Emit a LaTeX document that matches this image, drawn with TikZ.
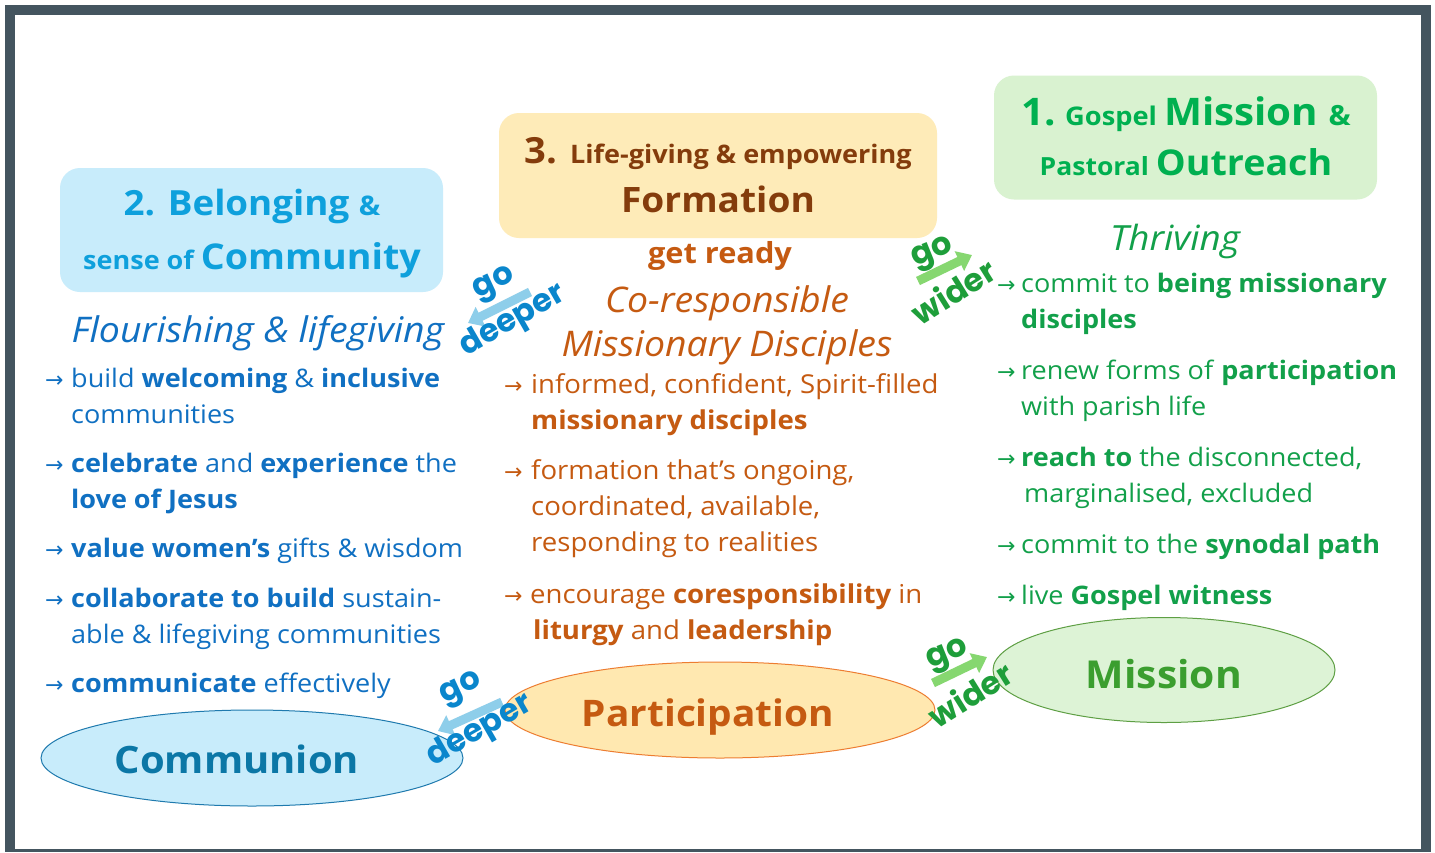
\documentclass[tikz,border=0pt]{standalone}
\usepackage{fontspec}
\setmainfont{Open Sans}[FakeStretch=1.06]
\newfontfamily\djv{DejaVu Sans}
\newfontfamily\pop{Poppins}
\usetikzlibrary{arrows.meta,shapes.geometric}
\definecolor{framec}{HTML}{44555F}
\definecolor{cblue}{HTML}{1070C2}
\definecolor{tblue}{HTML}{0EA0DC}
\definecolor{bfill}{HTML}{C8ECFB}
\definecolor{yfill}{HTML}{FEEBB8}
\definecolor{gfill}{HTML}{D9F2D0}
\definecolor{brown}{HTML}{843C0C}
\definecolor{corange}{HTML}{C55A11}
\definecolor{cgreen}{HTML}{12A04A}
\definecolor{tgreen}{HTML}{00B050}
\definecolor{commc}{HTML}{0B77A6}
\definecolor{commo}{HTML}{1F7AAE}
\definecolor{partf}{HTML}{FFE8B0}
\definecolor{parto}{HTML}{ED7D31}
\definecolor{missf}{HTML}{DDF3D6}
\definecolor{misso}{HTML}{5E9F44}
\definecolor{missc}{HTML}{3B9E2F}
\definecolor{gdtext}{HTML}{0A86CC}
\definecolor{gdarrow}{HTML}{8ECEEA}
\definecolor{gwtext}{HTML}{1E9E3A}
\definecolor{gwarrow}{HTML}{86D770}
\newcommand{\fsz}[1]{\fontsize{#1}{#1}\selectfont}
\begin{document}
\begin{tikzpicture}[x=1pt,y=-1pt,
  rbox/.style={rectangle,rounded corners=20pt,inner sep=0pt},
  line/.style={anchor=base west,inner sep=0pt},
  ltxt/.style={line,text=cblue,font=\fsz{25.5}},
  mtxt/.style={line,text=corange,font=\fsz{26}},
  rtxt/.style={line,text=cgreen,font=\fsz{25.5}},
  arw/.style={anchor=base west,inner sep=0pt,font=\djv\fsz{22}},
  ttl/.style={anchor=base,inner sep=0pt},
  head/.style={anchor=base,inner sep=0pt,font=\itshape\fsz{35.3}},
  oval/.style={ellipse,draw,line width=1pt,inner sep=0pt},
  ovtxt/.style={anchor=base,inner sep=0pt,font=\bfseries\fsz{37.7}},
  gotxt/.style={inner sep=0pt,font=\pop\bfseries\fsz{32}},
  gdarr/.style={draw=gdarrow,line width=9pt,-{Triangle[length=14pt,width=21pt]}},
  gwarr/.style={draw=gwarrow,line width=9pt,-{Triangle[length=14pt,width=21pt]}}]
\useasboundingbox (0,0) rectangle (1435,852);
\fill[white] (0,0) rectangle (1435,852);
\fill[framec] (5,5) rectangle (1431,852);
\fill[white] (15,15) rectangle (1421,849);

% title boxes
\node[rbox,fill=bfill,minimum width=383pt,minimum height=124pt] (b2) at (251.5,230) {};
\node[rbox,fill=yfill,minimum width=438pt,minimum height=125pt] (b3) at (718,175.5) {};
\node[rbox,fill=gfill,minimum width=383pt,minimum height=124pt] (b1) at (1185.5,137.5) {};

\node[ttl,text=tblue,font=\bfseries] (t2a) at (252,215) {{\fsz{34.7}2. Belonging }{\fsz{27}\&}};
\node[ttl,text=tblue,font=\bfseries] (t2b) at (252,269) {{\fsz{25.5}sense of }{\fsz{35.5}Community}};
\node[ttl,text=brown,font=\bfseries] (t3a) at (718,163) {{\fsz{36}3. }{\fsz{25.5}Life-giving \& empowering}};
\node[ttl,text=brown,font=\bfseries\fsz{35}] (t3b) at (718,212) {Formation};
\node[ttl,text=tgreen,font=\bfseries] (t1a) at (1186,125) {{\fsz{38}1.}{\fsz{25.7} Gospel }{\fsz{38}Mission }{\fsz{27.8}\&}};
\node[ttl,text=tgreen,font=\bfseries] (t1b) at (1186,175) {{\fsz{25}Pastoral }{\fsz{35.5}Outreach}};

% headings
\node[head,text=cblue] (h2) at (258,342) {Flourishing \& lifegiving};
\node[ttl,text=corange,font=\bfseries\fsz{29}] (gr) at (720,263) {get ready};
\node[head,text=corange] (h3a) at (727,312) {Co-responsible};
\node[head,text=corange] (h3b) at (727,356) {Missionary Disciples};
\node[head,text=cgreen,font=\itshape\fsz{34.7}] (h1) at (1175,250) {Thriving};

% left list
\node[arw,text=cblue] (la1) at (45,387) {→};
\node[ltxt] (l1a) at (71,387) {build \textbf{welcoming} \& \textbf{inclusive}};
\node[ltxt] (l1b) at (71,423) {communities};
\node[arw,text=cblue] (la2) at (45,472) {→};
\node[ltxt] (l2a) at (71,472) {\textbf{celebrate} and \textbf{experience} the};
\node[ltxt] (l2b) at (71,508) {\textbf{love of Jesus}};
\node[arw,text=cblue] (la3) at (45,557) {→};
\node[ltxt] (l3a) at (71,557) {\textbf{value women’s} gifts \& wisdom};
\node[arw,text=cblue] (la4) at (45,607) {→};
\node[ltxt] (l4a) at (71,607) {\textbf{collaborate to build} sustain-};
\node[ltxt] (l4b) at (71,643) {able \& lifegiving communities};
\node[arw,text=cblue] (la5) at (45,692) {→};
\node[ltxt] (l5a) at (71,692) {\textbf{communicate} effectively};

% middle list
\node[arw,text=corange] (ma1) at (504,393) {→};
\node[mtxt] (m1a) at (531,393) {informed, confident, Spirit-filled};
\node[mtxt] (m1b) at (531,429) {\textbf{missionary disciples}};
\node[arw,text=corange] (ma2) at (504,479) {→};
\node[mtxt] (m2a) at (531,479) {formation that’s ongoing,};
\node[mtxt] (m2b) at (531,515) {coordinated, available,};
\node[mtxt] (m2c) at (531,551) {responding to realities};
\node[arw,text=corange] (ma3) at (504,603) {→};
\node[mtxt] (m3a) at (530,603) {encourage \textbf{coresponsibility} in};
\node[mtxt] (m3b) at (533,639) {\textbf{liturgy} and \textbf{leadership}};

% right list
\node[arw,text=cgreen] (ra1) at (997,292) {→};
\node[rtxt] (r1a) at (1021,292) {commit to \textbf{being missionary}};
\node[rtxt] (r1b) at (1021,328) {\textbf{disciples}};
\node[arw,text=cgreen] (ra2) at (997,379) {→};
\node[rtxt] (r2a) at (1021,379) {renew forms of \textbf{participation}};
\node[rtxt] (r2b) at (1021,415) {with parish life};
\node[arw,text=cgreen] (ra3) at (997,466) {→};
\node[rtxt] (r3a) at (1021,466) {\textbf{reach to} the disconnected,};
\node[rtxt] (r3b) at (1024,502) {marginalised, excluded};
\node[arw,text=cgreen] (ra4) at (997,553) {→};
\node[rtxt] (r4a) at (1021,553) {commit to the \textbf{synodal path}};
\node[arw,text=cgreen] (ra5) at (997,604) {→};
\node[rtxt] (r5a) at (1021,604) {live \textbf{Gospel witness}};

% ovals
\node[oval,draw=commo,fill=bfill,minimum width=422pt,minimum height=96pt] (comm) at (252,758) {};
\node[oval,draw=parto,fill=partf,minimum width=430pt,minimum height=96pt] (part) at (720,710) {};
\node[oval,draw=misso,fill=missf,minimum width=342pt,minimum height=105pt] (miss) at (1164,670) {};
\node[ovtxt,text=commc] (commt) at (237,773) {Communion};
\node[ovtxt,text=corange,font=\bfseries\fsz{36.6}] (partt) at (708,726) {Participation};
\node[ovtxt,text=missc,font=\bfseries\fsz{38.5}] (misst) at (1164,688) {Mission};

% go deeper / go wider
\coordinate (d1s) at (530,292); \coordinate (d1e) at (468,323);
\coordinate (d2s) at (502,702); \coordinate (d2e) at (438,731);
\coordinate (w1s) at (918,281); \coordinate (w1e) at (972,255);
\coordinate (w2s) at (933,683); \coordinate (w2e) at (987,657);
\draw[gdarr] (d1s) -- (d1e);
\draw[gdarr] (d2s) -- (d2e);
\draw[gwarr] (w1s) -- (w1e);
\draw[gwarr] (w2s) -- (w2e);
\node[gotxt,text=gdtext,rotate=25] (gd1a) at (495,285) {go};
\node[gotxt,text=gdtext,rotate=30] (gd1b) at (513,321) {deeper};
\node[gotxt,text=gdtext,rotate=25] (gd2a) at (462,690) {go};
\node[gotxt,text=gdtext,rotate=30] (gd2b) at (480,731) {deeper};
\node[gotxt,text=gwtext,rotate=22] (gw1a) at (933,254) {go};
\node[gotxt,text=gwtext,rotate=32] (gw1b) at (953,291) {wider};
\node[gotxt,text=gwtext,rotate=22] (gw2a) at (948,656) {go};
\node[gotxt,text=gwtext,rotate=32] (gw2b) at (970,694) {wider};
\end{tikzpicture}
\end{document}
